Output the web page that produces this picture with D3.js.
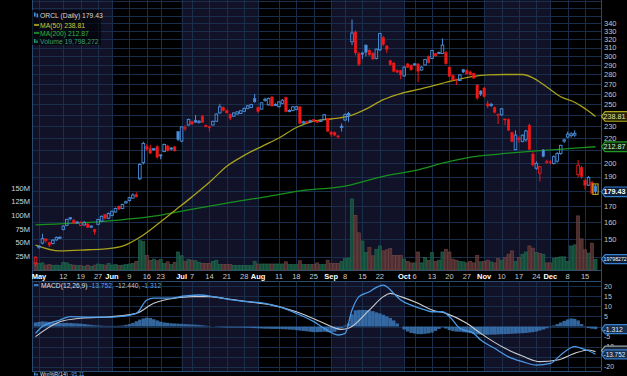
<!DOCTYPE html>
<html><head><meta charset="utf-8">
<script src="https://cdn.jsdelivr.net/npm/d3@7"></script>
<style>body{margin:0;background:#000;overflow:hidden}svg{display:block}text{font-family:"Liberation Sans",Arial,sans-serif}</style>
</head><body><svg id="c" width="627" height="376"></svg>
<script>
// ---------- DATA ----------
const firstDay = "2025-04-30", lastDay = "2025-12-18";
const holidays = ["2025-05-26","2025-06-19","2025-07-04","2025-09-01","2025-11-27"];
const prevClose0 = 141.5;
const open = [136.5,145.5,147.7,150,148,147.5,149.5,150.5,155.5,158,
162,161,159.5,158,158.2,158.8,156.9,155.5,158.6,160.5,
164.5,162.3,164,166.2,169.8,168.4,172,173.5,175.2,177.6,
188.5,200.5,213,211.5,210.5,213,206.5,209,213.5,211,
212.8,225.5,217.5,229,231.2,234,235.5,233.5,239,231,
229.6,231.2,234.5,242,247.2,244,240.7,239,241,241.5,
243.5,246.2,247,255.6,247.2,245.5,254,249.5,257,249.4,
247.8,251,256.5,243.8,244.2,245.2,247.6,233,234.4,234.5,
236,234.7,234.3,236.3,237,225,224.8,221.8,229.5,235.6,
240.5,317,329,303,304,313,307,303.5,297.5,307.5,
322,312,295,292.5,284,284,278.5,291.5,290,290.5,
291.5,284.8,290.3,300,297.5,303,303.2,303.3,304.5,288,
279,274.5,273.7,285.4,284.5,282.8,281.2,269,263,266,
250.5,249,247,240.5,240.3,236.5,236,224.5,210.5,220,
217.2,218.5,231,207,196.2,192.6,210.3,201.3,201,199.8,
201.5,207.5,217.5,220.8,222,222.5,191.5,196.8,187.2,184,
186,183.5];
const high = [140.5,146.5,153,150.5,148.5,150,151.5,151.5,158,162,
163,162,160.5,160.5,160.5,159.5,158,156,162,164,
165,165.8,167,169,170.5,171.5,173.5,176,178.5,179,
200,217,215,214.5,212,214,206.8,215.5,214.5,212.5,
213.5,226,230,231,236.8,235,240,235.5,240,231.5,
230.5,235,241.5,250.5,248,245,241.5,242.5,243.5,244.5,
247,249.5,250.5,260,248,252,256.5,256.5,258,251,
253,255,257.5,245.5,248.5,248.5,248.2,235,235,236,
236.5,235.5,236,241,237.5,226,225.5,222.7,232.5,241.5,
243,345,331,305,305,314,308,305,309,328,
324,313,296,293.5,285.5,285,289,292.5,291,292.5,
292,289,297,301,307.5,304,305.5,321,306,289,
280,275.5,280.5,286,285.5,284,282,270,264,267,
253.5,251.5,248,241.5,246.5,237,237,225.5,226.5,221.5,
223,227,232.5,208.5,201.5,198,211,202.5,202.3,206,
208.5,214.5,219.5,225.5,225,226.5,202.4,198,188.5,190.5,
187,184.5];
const low = [135,144.5,147,148,145.5,147,149,150,155,157.5,
161,159,159,157.5,157.8,156.3,156.5,152.5,158,160,
161.5,161.8,163.5,165.8,167.5,168,171.5,173,174.8,175.5,
187.5,199,209.5,207,209.5,203.5,203,208.5,209,210,
209,217.5,216.5,226,230.5,231.5,233,232.5,233,229,
225.5,230.5,234,241.5,243.5,241.5,235.5,238.5,240.5,241,
243,245.5,246.5,251.5,242,245,252.5,249,248,248.5,
247,250.5,242.5,242.5,243.5,244.5,232,231,232.5,233.3,
234,233,233.8,236,225,221,221.5,219.5,225.5,234.5,
234,313,301,289,297,300,300,296,296.5,306,
312,304,289.5,282.5,281.5,275,277.5,287,284,289.5,
272,284,289.5,292,297,299.5,302.5,302.5,290.5,277,
273.5,269,273,281.5,280,279,275.5,254.5,258,256.5,
246.5,247.5,241.5,232,239.5,231,226,216.5,210,216,
216.5,217,210,197.5,195,186.6,204.5,199.5,199,199,
200.5,206.5,216,220,220.5,221,189.5,188.5,181,183.5,
177.5,178];
const close = [140,146,150.2,149,146.5,149.3,150.8,151,157.5,161.5,
162.6,159.3,160,159.7,159.9,156.8,157.5,154.2,161.5,163.5,
162.3,165.3,166.7,168.4,168,171,172.8,175.5,177.2,176,
199,215.5,211,207.8,211.3,204.5,205.5,214.7,209.7,211.8,
209.6,218.6,229.5,228,236,232,233.5,234.5,233.4,229.8,
229.3,234.4,241,247.7,244.2,242,237.3,242,243,244,
246.2,248.6,249.8,252.4,243.2,251.5,254.8,255.6,248.4,249.9,
252.3,254,243.2,244.2,247.6,247.8,232.8,234,233,235,
234.6,233.4,235.4,240.3,225.7,223,222.5,221.5,230,240.5,
241.5,327.7,304,291,302,304.5,301.6,297,308.2,327,
313.7,308,290.5,283.5,282.4,279.5,288,287.8,285,291.5,
283.3,288,296.5,292.7,306.7,300.5,304.3,313,291.6,278,
274.3,274,279.4,282.5,280.7,279.6,276.2,256,260,257.3,
248.5,250,242.5,240,245.8,236,226.5,217.2,222.5,218.7,
222.4,226,210.5,198.7,199.8,197.3,205.1,201,200.5,205,
207.5,214,218.5,223.3,223.5,224,198.5,190,184,189.5,
178.5,179.43];
// volume, millions of shares
const volume = [14,12,13,9,10,8,9,8,14,13,
10,9,8,8,7,9,7,9,11,10,
9,12,9,10,8,9,10,11,12,16,
54,52,27,18,20,17,19,12,15,10,
14,33,26,16,19,18,17,14,12,12,
12,16,18,10,10,10,10,8,8,8,
8,8,8,16,11,11,11,11,11,11,
11,11,15,10,10,10,17,10,10,10,
10,13,10,10,18,12,12,12,16,21,
22,130,100,68,53,32,41,26,38,44,
35,37,39,27,27,27,20,16,13,13,
33,13,23,18,32,16,18,33,38,33,
20,18,16,15,13,16,13,27,15,16,
18,15,13,21,18,23,29,35,16,23,
29,33,44,40,32,30,29,13,13,21,
23,24,24,16,44,46,99,57,37,31,
49,19.798272];
// moving averages read at sampled trading-day indices
const ma50Day = [0,7,15,20,25,30,35,40,45,50,55,60,65,70,75,80,85,90,95,100,105,110,115,120,125,130,135,140,143,147,151,155,158,161];
const ma50 = [146.6,143.4,144,144.5,146,151,158.5,167,176,186,197.7,206,213,220,229,234.5,236.5,239,245.5,254.5,260.5,264.5,269,273.5,277.5,279.5,280,280,276.5,267,257.3,252,246,238.81];
const ma200Day = [0,10,24,34,44,55,67,76,89,100,110,117,126,136,145,155,161];
const ma200 = [158.3,159.2,161.2,163.6,167.5,171.9,176.3,180,183.4,190.3,195,200,205,207.7,209.8,211.7,212.87];
// MACD(12,26,9)
const macdDay = [0,2,7,10,16,20,24,29,32,34,38,43,47,52,57,61,66,70,75,80,83,87,89,91,93,96,98,100,101,103,105,108,112,114,117,119,122,126,128,132,136,140,144,148,151,155,157,159,161];
const macd = [-3.4,0,3.2,4.9,4.6,4.6,4.9,6.5,13.1,14,14,15.1,15.6,14.5,13.1,12.3,11.5,9.8,6.5,2.4,-0.9,-4.2,-3.4,8.2,14.8,17.2,19.4,20.5,19.7,16.4,13.1,10.6,8.2,7.3,7.3,4.9,-0.9,-3.4,-6.7,-10.8,-15,-17.4,-19.1,-18.3,-14.1,-10,-10.8,-12,-13.752];
const signalDay = [0,7,13,22,29,34,38,45,50,54,61,68,75,82,88,90,96,100,102,105,110,114,118,124,128,135,140,145,150,155,159,161];
const signal = [-5,2.4,4.1,4.9,6.5,11.5,13.5,14.8,14.8,14,12.3,10.6,7.3,2.4,-1.4,-0.9,8.2,14.8,16.4,14.8,11.5,8.2,6.5,1.6,-3.4,-10.8,-14.6,-17.4,-16.6,-13.3,-11.6,-12.44];
const hist = [2.0,2.3,2.5,2.4,2.2,2.0,1.8,
1.7,1.7,1.8,1.7,1.6,1.5,1.4,1.2,1.0,0.8,
0.6,0.5,0.4,0.3,0.3,0.3,0.3,0.4,0.5,0.8,1.2,1.8,2.6,
3.4,4.0,4.4,4.2,3.6,3.0,2.4,
2.0,1.8,1.6,1.5,1.4,1.3,
1.2,1.1,1.0,0.9,0.8,0.6,0.4,0.2,
0,-0.2,-0.3,-0.4,-0.5,-0.5,-0.5,-0.5,-0.5,-0.6,-0.6,-0.7,
-0.8,-0.9,-1.0,-1.1,-1.1,-1.2,-1.2,-1.2,-1.3,-1.4,-1.5,-1.6,-1.8,-2.0,
-2.2,-2.4,-2.6,-2.8,-2.8,-2.7,-2.6,-2.8,-3.0,-2.6,-1.8,-0.8,
0.5,1.5,
6,8,8.2,8.2,8.2,8,7.6,7,6.5,5.8,5,4.2,3,1.5,0,
-1.5,-2.5,-3.2,-3.5,-3.8,-3.8,-3.6,-3.4,-3,-2.2,-1.2,
-0.3,
-1,-1.8,-2.3,-2.5,-2.6,-2.8,-3,-3.3,
-3.6,-3.9,-4,-4.1,-4.1,-4,-4,-3.9,-3.8,-3.8,-3.7,-3.6,-3.5,-3.4,-3.3,
-3.2,-3,-2.8,-2.5,-2,-1.5,-0.9,-0.3,
0.5,1.2,2,2.8,3.5,4,3.8,3,
1.2,-0.2,-0.8,-1.1,-1.312];
const priceTicks = [140,150,160,170,180,190,200,210,220,230,240,250,260,270,280,290,300,310,320,330,340];
const volTicks = [25,50,75,100,125,150];
const macdTicks = [20,15,10,5,0,-5,-10,-15,-20];
const xTickDates = ["2025-05-01","2025-05-12","2025-05-19","2025-05-27","2025-06-02","2025-06-09","2025-06-16","2025-06-23","2025-07-01","2025-07-07","2025-07-14","2025-07-21","2025-07-28","2025-08-01","2025-08-11","2025-08-18","2025-08-25","2025-09-02","2025-09-08","2025-09-15","2025-09-22","2025-10-01","2025-10-06","2025-10-13","2025-10-20","2025-10-27","2025-11-03","2025-11-10","2025-11-17","2025-11-24","2025-12-01","2025-12-08","2025-12-15"];
const xTickLabels = ["May","12","19","27","Jun","9","16","23","Jul","7","14","21","28","Aug","11","18","25","Sep","8","15","22","Oct","6","13","20","27","Nov","10","17","24","Dec","8","15"];
const monthStarts = ["2025-06-02","2025-07-01","2025-08-01","2025-09-02","2025-10-01","2025-11-03","2025-12-01"];

// ---------- LAYOUT ----------
const svg = d3.select("#c");
const PL = 32, PR = 601, PT = 0, PB = 270, MT = 281, MB = 371;
const fmt = d3.timeFormat("%Y-%m-%d"), parse = d3.timeParse("%Y-%m-%d");
const hol = new Set(holidays);
const days = d3.timeDay.range(parse(firstDay), d3.timeDay.offset(parse(lastDay),1))
  .filter(d => d.getDay() % 6 !== 0 && !hol.has(fmt(d)));
const dayIdx = s => days.findIndex(d => fmt(d) === s);
const N = days.length;
const x = d3.scaleLinear().domain([0, N-1]).range([35.5, 595.5]);
const y = d3.scaleLog().domain([140, 340]).range([257.2, 23.3]);
const yv = d3.scaleLinear().domain([0, 150]).range([270, 188]);
const ym = d3.scaleLinear().domain([-20, 20]).range([366.9, 286.1]);
const step = x(1) - x(0);

const NAVY = "#111128", GRID = "#182e4a";
svg.append("rect").attr("width",627).attr("height",376).attr("fill","#000");

// month bands in both panels
const edges = [PL].concat(monthStarts.map(s => x(dayIdx(s)))).concat([PR]);
const bands = d3.pairs(edges);
[[PT,PB],[MT,MB]].forEach(([t,b]) => {
  svg.append("g").selectAll("rect").data(bands).join("rect")
    .attr("x", d => d[0]).attr("width", d => d[1]-d[0])
    .attr("y", t).attr("height", b-t)
    .attr("fill", (d,i) => i % 2 === 0 ? NAVY : "#000");
});

// grid
const gx = xTickDates.map(dayIdx);
const grid = svg.append("g").attr("stroke", GRID).attr("stroke-width", 1).attr("shape-rendering","crispEdges");
[[PT,PB],[MT,MB]].forEach(([t,b]) => {
  grid.selectAll(null).data(gx).join("line")
    .attr("x1", d => Math.round(x(d))+0.5).attr("x2", d => Math.round(x(d))+0.5)
    .attr("y1", t).attr("y2", b);
});
grid.selectAll(null).data(priceTicks.concat([350,360,370])).join("line")
  .attr("x1", PL).attr("x2", PR).attr("y1", d => Math.round(y(d))+0.5).attr("y2", d => Math.round(y(d))+0.5);
grid.selectAll(null).data(macdTicks).join("line")
  .attr("x1", PL).attr("x2", PR).attr("y1", d => Math.round(ym(d))+0.5).attr("y2", d => Math.round(ym(d))+0.5);
const bord = svg.append("g").attr("stroke", "#2a4a6e").attr("fill","none").attr("shape-rendering","crispEdges");
bord.append("line").attr("x1",PL+0.5).attr("x2",PL+0.5).attr("y1",0).attr("y2",MB);
bord.append("line").attr("x1",PR+0.5).attr("x2",PR+0.5).attr("y1",0).attr("y2",MB);
bord.append("line").attr("x1",PL).attr("x2",PR).attr("y1",PB+0.5).attr("y2",PB+0.5);
bord.append("line").attr("x1",PL).attr("x2",PR).attr("y1",MT+0.5).attr("y2",MT+0.5);
bord.append("line").attr("x1",PL).attr("x2",PR).attr("y1",MB+0.5).attr("y2",MB+0.5);

// ---------- VOLUME ----------
const isUp = i => close[i] >= (i === 0 ? prevClose0 : close[i-1]);
svg.append("g").selectAll("rect").data(volume).join("rect")
  .attr("x", (d,i) => x(i) - step/2 + 0.2).attr("width", step - 0.4)
  .attr("y", d => yv(d)).attr("height", d => yv(0) - yv(d))
  .attr("fill", (d,i) => isUp(i) ? "#17533c" : "#553232")
  .attr("stroke", (d,i) => isUp(i) ? "#25745a" : "#7e4c4c").attr("stroke-width", 0.6)
  .attr("opacity", 0.9);

// ---------- MOVING AVERAGES ----------
const line = d3.line().curve(d3.curveMonotoneX);
svg.append("path").attr("d", line(ma200Day.map((d,k) => [x(d), y(ma200[k])])))
  .attr("fill","none").attr("stroke","#17901e").attr("stroke-width",1.3);
svg.append("path").attr("d", line(ma50Day.map((d,k) => [x(d), y(ma50[k])])))
  .attr("fill","none").attr("stroke","#a7a11c").attr("stroke-width",1.3);

// ---------- CANDLES ----------
const BLUE = "#4a8fdc", RED = "#f01818";
const cg = svg.append("g");
d3.range(N).forEach(i => {
  const col = isUp(i) ? BLUE : RED;
  const filled = close[i] < open[i];
  const top = y(Math.max(open[i], close[i])), bot = y(Math.min(open[i], close[i]));
  const h = Math.max(bot - top, 1);
  const cx = x(i);
  cg.append("line").attr("x1",cx).attr("x2",cx).attr("y1",y(high[i])).attr("y2",top).attr("stroke",col).attr("stroke-width",1);
  cg.append("line").attr("x1",cx).attr("x2",cx).attr("y1",top+h).attr("y2",y(low[i])).attr("stroke",col).attr("stroke-width",1);
  cg.append("rect").attr("x",cx-1.3).attr("width",2.6).attr("y",top).attr("height",h)
    .attr("fill", filled ? col : "none").attr("stroke", col).attr("stroke-width", filled ? 0.4 : 0.9);
});
const li = N-1;
svg.append("rect").attr("x", x(li)-2.6).attr("width",5.2)
  .attr("y", y(high[li])-0.5).attr("height", y(low[li]) - y(high[li]) + 1)
  .attr("fill","none").attr("stroke","#c9b52a").attr("stroke-width",1);

// ---------- MACD ----------
const zero = ym(0);
svg.append("g").selectAll("rect").data(hist).join("rect")
  .attr("x", (d,i) => x(i) - step/2).attr("width", step)
  .attr("y", d => Math.min(ym(d), zero)).attr("height", d => Math.abs(ym(d) - zero))
  .attr("fill", "#3b78b8").attr("opacity", 0.85);
svg.append("path").attr("d", line(signalDay.map((d,k) => [x(d), ym(signal[k])])))
  .attr("fill","none").attr("stroke","#c8ccd2").attr("stroke-width",1.1);
svg.append("path").attr("d", line(macdDay.map((d,k) => [x(d), ym(macd[k])])))
  .attr("fill","none").attr("stroke","#4a9ae6").attr("stroke-width",1.3);

// ---------- AXES ----------
const FS = 7.5;
const priceTagY = [y(ma50[ma50.length-1]), y(ma200[ma200.length-1]), y(close[li]), yv(volume[li])];
const macdTagY = [ym(macd[macd.length-1]), ym(hist[li])];
const freeP = v => priceTagY.every(t => Math.abs(y(v) - t) > 7);
const freeM = v => macdTagY.every(t => Math.abs(ym(v) - t) > 6.5);
const ax = svg.append("g").attr("font-size", FS);
ax.selectAll(null).data(priceTicks.filter(freeP)).join("text")
  .attr("x", 604).attr("y", d => y(d)).attr("dy","0.35em").attr("fill","#c4c4c4").text(d => d);
ax.selectAll(null).data(macdTicks.filter(freeM)).join("text")
  .attr("x", 604).attr("y", d => ym(d)).attr("dy","0.35em").attr("font-size", 7).attr("fill","#c4c4c4").text(d => d);
ax.selectAll(null).data(volTicks).join("text")
  .attr("x", 30).attr("y", d => yv(d)).attr("dy","0.35em").attr("text-anchor","end").attr("fill","#d6d6d6").text(d => d + "M");
ax.selectAll(null).data(gx).join("text")
  .attr("x", d => x(d)).attr("y", 276).attr("dy","0.35em").attr("text-anchor","middle")
  .attr("font-weight", (d,k) => isNaN(+xTickLabels[k]) ? "bold" : "normal")
  .attr("fill", (d,k) => isNaN(+xTickLabels[k]) ? "#ffffff" : "#c8c8c8")
  .text((d,k) => xTickLabels[k]);

// value tags on the right axis
function tag(yy, txt, stroke, fill, tcol, bold, fs, hh) {
  const g = svg.append("g");
  g.append("path").attr("d", `M601.5,${yy} L605,${yy-hh} L630,${yy-hh} L630,${yy+hh} L605,${yy+hh} Z`)
    .attr("fill", fill).attr("stroke", stroke).attr("stroke-width", 1.2).attr("stroke-linejoin","round");
  if (txt) g.append("text").attr("x", 603.6).attr("y", yy).attr("dy","0.35em").attr("font-size", fs)
    .attr("font-weight", bold ? "bold" : "normal").attr("fill", tcol).text(txt);
}
tag(y(ma50[ma50.length-1]), ma50[ma50.length-1].toFixed(2), "#b3a91e", "#25230a", "#e8e2a0", false, 7.2, 4.8);
tag(y(ma200[ma200.length-1]), ma200[ma200.length-1].toFixed(2), "#1f9a24", "#0b220c", "#d8f0d8", false, 7.2, 4.8);
tag(y(close[li]), close[li].toFixed(2), "#3a7fd0", "#0d1e3a", "#ffffff", true, 7.2, 4.8);
tag(yv(volume[li]), String(Math.round(volume[li]*1e6)), "#3a7fd0", "#0d1e3a", "#ffffff", false, 5.2, 4.5);
// signal tag sits almost fully behind the MACD tag, as in the original
tag(ym(signal[signal.length-1]) - 1, null, "#9aa4b0", "#1c2430", "#e0e0e0", false, 6.3, 4.5);
tag(ym(hist[li]), hist[li].toFixed(3), "#3a7fd0", "#163050", "#e0e8f0", false, 6.8, 4.5);
tag(ym(macd[macd.length-1]), macd[macd.length-1].toFixed(3), "#3a7fd0", "#163050", "#e0e8f0", false, 6.4, 4.5);

// ---------- LEGENDS ----------
const lg = svg.append("g").attr("font-size", 6.8);
lg.append("rect").attr("x",32).attr("y",10).attr("width",69).attr("height",35).attr("fill","#000").attr("opacity",0.6);
lg.append("rect").attr("x",34).attr("y",12.5).attr("width",1.6).attr("height",4).attr("fill",BLUE);
lg.append("rect").attr("x",36.5).attr("y",13.5).attr("width",1.6).attr("height",4).attr("fill",BLUE);
lg.append("text").attr("x",40).attr("y",17.5).attr("fill","#d8d8d8").text("ORCL (Daily) 179.43");
lg.append("line").attr("x1",34).attr("x2",39).attr("y1",25).attr("y2",25).attr("stroke","#c4bb2a").attr("stroke-width",1.5);
lg.append("text").attr("x",40).attr("y",27.5).attr("fill","#d2c93c").text("MA(50) " + ma50[ma50.length-1].toFixed(2));
lg.append("line").attr("x1",34).attr("x2",39).attr("y1",33).attr("y2",33).attr("stroke","#22a82a").attr("stroke-width",1.5);
lg.append("text").attr("x",40).attr("y",35.5).attr("fill","#33b83a").text("MA(200) " + ma200[ma200.length-1].toFixed(2));
lg.append("rect").attr("x",34).attr("y",39).attr("width",1.5).attr("height",4).attr("fill","#2e9a6a");
lg.append("rect").attr("x",36.2).attr("y",40.5).attr("width",1.5).attr("height",2.5).attr("fill","#2e9a6a");
lg.append("text").attr("x",40).attr("y",43.5).attr("fill","#3aa070").text("Volume " + d3.format(",")(Math.round(volume[li]*1e6)));

const ml = svg.append("g").attr("font-size", 6.7);
ml.append("line").attr("x1",34).attr("x2",38.5).attr("y1",285).attr("y2",285).attr("stroke","#4a9ae6").attr("stroke-width",1.5);
const mt = ml.append("text").attr("x",41).attr("y",287.5);
mt.append("tspan").attr("fill","#e0e0e0").text("MACD(12,26,9) ");
mt.append("tspan").attr("fill","#5aa2ea").text(macd[macd.length-1].toFixed(3) + ", ");
mt.append("tspan").attr("fill","#c0c0c0").text(signal[signal.length-1].toFixed(3) + ", ");
mt.append("tspan").attr("fill","#5aa2ea").text(hist[li].toFixed(3));

ml.append("rect").attr("x",34).attr("y",372.5).attr("width",1.5).attr("height",3).attr("fill","#4a9ae6");
ml.append("rect").attr("x",36.3).attr("y",373.5).attr("width",1.5).attr("height",2).attr("fill","#4a9ae6");
const wt = ml.append("text").attr("x",40).attr("y",375.6).attr("font-size",5.4);
wt.append("tspan").attr("fill","#e0e0e0").text("Wm%R(14) ");
wt.append("tspan").attr("fill","#5aa2ea").text("-95.11");
</script></body></html>
